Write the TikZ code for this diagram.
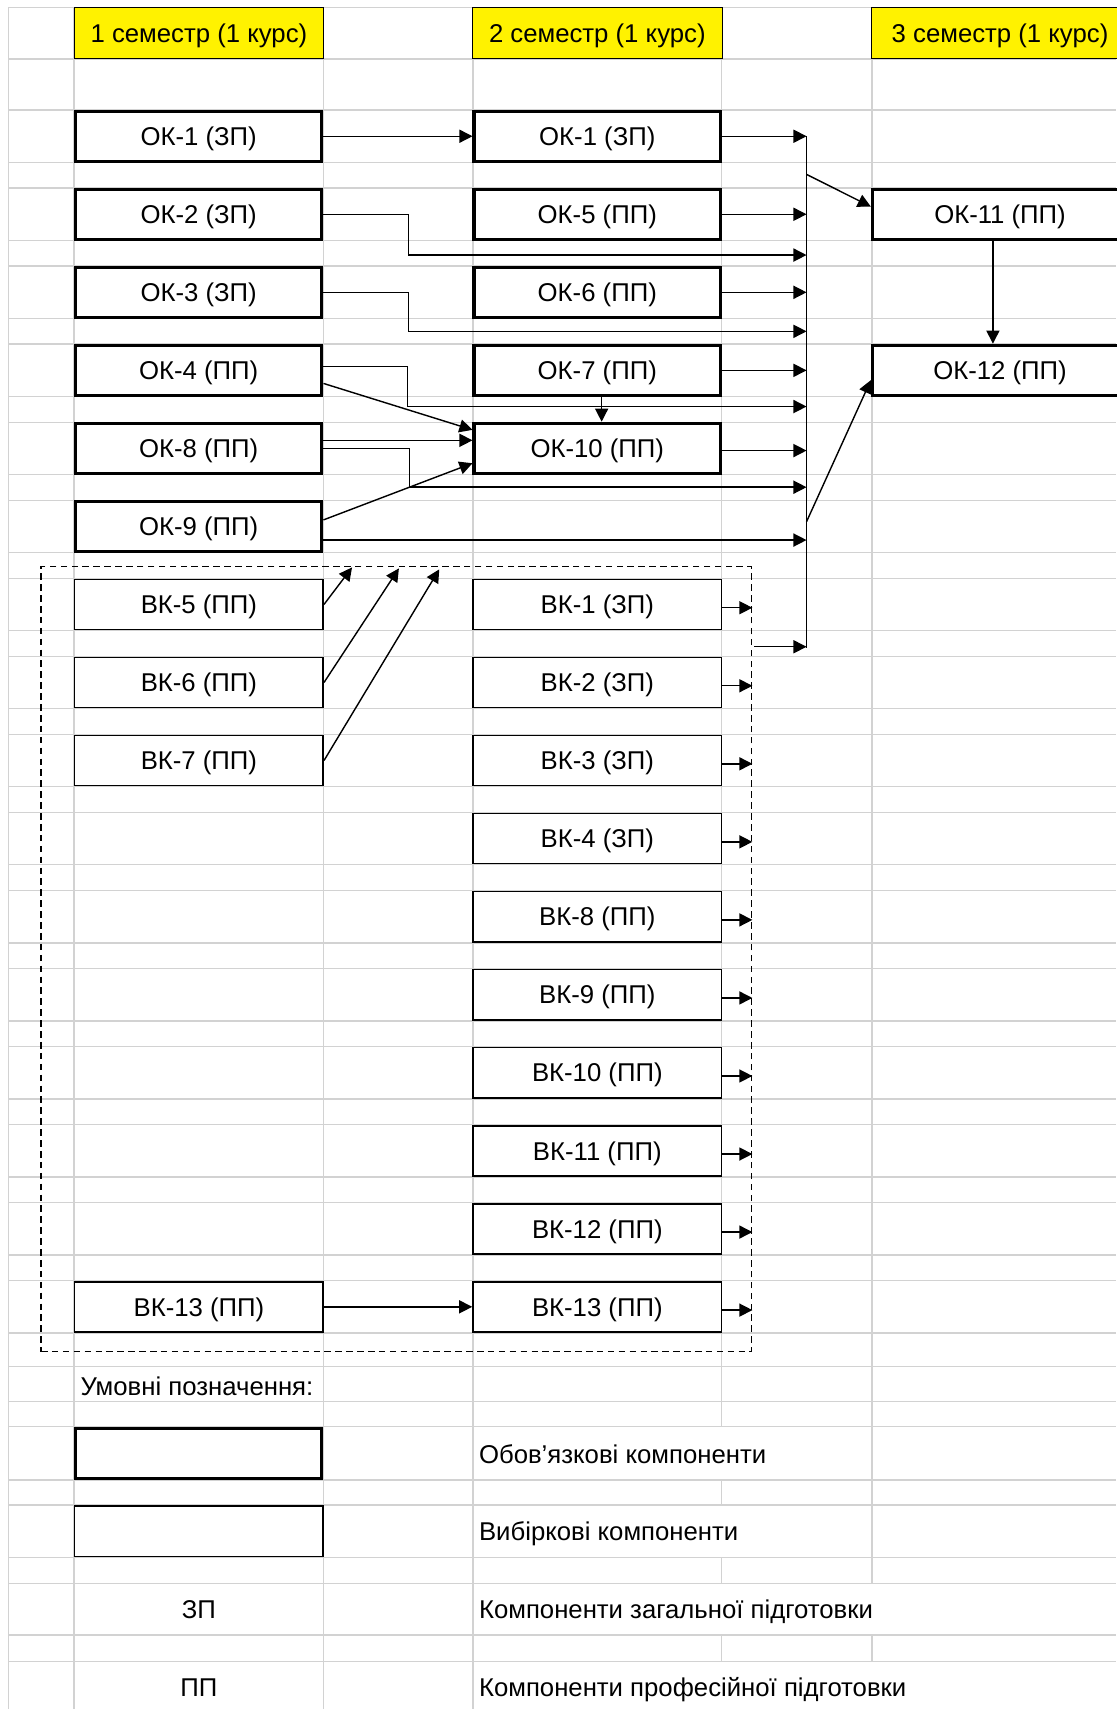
\documentclass[tikz,border=0pt]{standalone}
\usepackage{fontspec}
\setmainfont{Liberation Sans}
\usetikzlibrary{arrows.meta}
\newcommand\myfs{\fontsize{23.6}{28}\selectfont}
\begin{document}
\begin{tikzpicture}[x=1pt,y=-1pt,
  txt/.style={font=\myfs, text height=17pt, text depth=0pt},
  grid/.style={draw=gray!35, line width=1.3pt},
  hdr/.style={txt, draw=black, line width=0.9pt, fill=yellow, minimum width=229pt, minimum height=47.3pt, inner sep=0pt},
  okbox/.style={txt, draw=black, line width=3pt, fill=white, minimum width=226pt, minimum height=46pt, inner sep=0pt},
  vkbox/.style={txt, draw=black, line width=1.5pt, fill=white, minimum width=228pt, minimum height=46pt, inner sep=0pt},
  conn/.style={draw=black, line width=1.3pt},
  arr/.style={conn, -{Triangle[length=12pt,width=12pt]}},
  lbl/.style={txt, inner sep=0pt, anchor=west},
  grpbox/.style={draw=black, line width=1.3pt, dash pattern=on 6pt off 4pt, minimum width=652pt, minimum height=720pt, inner sep=0pt},
]
\useasboundingbox (0,0) rectangle (1024,1568);
\fill[white] (0,0) rectangle (1024,1568);
% grid
\foreach \y in {6.7,54,1254,1286,1309,1358,1381,1429,1453,1500,1524.6}
  \draw[grid] (8,\y) -- (1024,\y);
\foreach \k in {0,...,15}{
  \draw[grid] (8,{101+71.6*\k}) -- (1024,{101+71.6*\k});
  \draw[grid] (8,{149+71.6*\k}) -- (1024,{149+71.6*\k});
}
\foreach \x in {8,68,297,434}
  \draw[grid] (\x,6.7) -- (\x,1568);
\draw[grid] (662,6.7) -- (662,1309) (662,1358) -- (662,1381) (662,1429) -- (662,1453) (662,1500) -- (662,1524.6);
\draw[grid] (800,6.7) -- (800,1453) (800,1500) -- (800,1524.6);
% headers
\node[hdr] (h1) at (182.5,30.4) {1 семестр (1 курс)};
\node[hdr] (h2) at (548,30.4) {2 семестр (1 курс)};
\node[hdr, minimum width=235pt] (h3) at (917.5,30.4) {3 семестр (1 курс)};
% column 1
\node[okbox] (a1) at (182.3,125) {ОК-1 (ЗП)};
\node[okbox] (a2) at (182.3,196.6) {ОК-2 (ЗП)};
\node[okbox] (a3) at (182.3,268.2) {ОК-3 (ЗП)};
\node[okbox] (a4) at (182.3,339.8) {ОК-4 (ПП)};
\node[okbox] (a8) at (182.3,411.4) {ОК-8 (ПП)};
\node[okbox] (a9) at (182.3,483) {ОК-9 (ПП)};
\node[vkbox] (v5) at (182.5,554.6) {ВК-5 (ПП)};
\node[vkbox] (v6) at (182.5,626.2) {ВК-6 (ПП)};
\node[vkbox] (v7) at (182.5,697.8) {ВК-7 (ПП)};
\node[vkbox] (v13) at (182.5,1199) {ВК-13 (ПП)};
% column 2
\node[okbox] (b1) at (548,125) {ОК-1 (ЗП)};
\node[okbox] (b5) at (548,196.6) {ОК-5 (ПП)};
\node[okbox] (b6) at (548,268.2) {ОК-6 (ПП)};
\node[okbox] (b7) at (548,339.8) {ОК-7 (ПП)};
\node[okbox] (b10) at (548,411.4) {ОК-10 (ПП)};
\node[vkbox] (w1) at (548,554.6) {ВК-1 (ЗП)};
\node[vkbox] (w2) at (548,626.2) {ВК-2 (ЗП)};
\node[vkbox] (w3) at (548,697.8) {ВК-3 (ЗП)};
\node[vkbox] (w4) at (548,769.4) {ВК-4 (ЗП)};
\node[vkbox] (w8) at (548,841) {ВК-8 (ПП)};
\node[vkbox] (w9) at (548,912.6) {ВК-9 (ПП)};
\node[vkbox] (w10) at (548,984.2) {ВК-10 (ПП)};
\node[vkbox] (w11) at (548,1055.8) {ВК-11 (ПП)};
\node[vkbox] (w12) at (548,1127.4) {ВК-12 (ПП)};
\node[vkbox] (w13) at (548,1199) {ВК-13 (ПП)};
% column 3
\node[okbox, minimum width=234pt] (c11) at (917.5,196.6) {ОК-11 (ПП)};
\node[okbox, minimum width=234pt] (c12) at (917.5,339.8) {ОК-12 (ПП)};
% group box
\node[grpbox] (grp) at (363.65,880) {};
% coordinates
\coordinate (bus) at (740,125);
\coordinate (busend) at (740,594.6);
\coordinate (e2) at (375,234);
\coordinate (e3) at (375,304);
\coordinate (e4) at (374,373);
\coordinate (e8) at (375.6,447);
\coordinate (j1) at (740,160);
\coordinate (j2) at (740,478.6);
\coordinate (g1) at (692,593.4);
\coordinate (t5) at (323,520.6);
\coordinate (t6) at (366,521.5);
\coordinate (t7) at (403,522.4);
% bus
\draw[conn] (bus) -- (busend);
% column 1 -> column 2 / bus
\draw[arr] (a1.east) -- (b1.west);
\draw[arr] (a2.east) -| (e2) -- (e2 -| bus);
\draw[arr] (a3.east) -| (e3) -- (e3 -| bus);
\draw[arr] ([yshift=3.4pt]a4.east) -| (e4) -- (e4 -| bus);
\draw[arr] ([yshift=-12pt]a4.east) -- ([yshift=17pt]b10.west);
\draw[arr] ([yshift=7.4pt]a8.east) -- ([yshift=7.4pt]b10.west);
\draw[arr] (a8.east) -| (e8) -- (e8 -| bus);
\draw[arr] ([yshift=6pt]a9.east) -- ([yshift=-13.6pt]b10.west);
\path ([yshift=-12.5pt]a9.east) coordinate (s9);
\draw[arr] (s9) -- (s9 -| bus);
% column 2 -> bus
\draw[arr] (b1.east) -- (b1.east -| bus);
\draw[arr] (b5.east) -- (b5.east -| bus);
\draw[arr] (b6.east) -- (b6.east -| bus);
\draw[arr] (b7.east) -- (b7.east -| bus);
\path ([yshift=-2pt]b10.east) coordinate (s10);
\draw[arr] (s10) -- (s10 -| bus);
\draw[arr] ([xshift=4pt]b7.south) -- ([xshift=4pt]b10.north);
% bus -> column 3
\draw[arr] (j1) -- ([yshift=7pt]c11.west);
\draw[arr] (j2) -- ([yshift=-9pt]c12.west);
\draw[arr] ([xshift=-6.5pt]c11.south) -- ([xshift=-6.5pt]c12.north);
% group
\draw[arr] (g1) -- (g1 -| bus);
\foreach \n in {w1,w2,w3,w4,w8,w9,w10,w11,w12,w13}{
  \path ([yshift=-3pt]\n.east) coordinate (s\n);
  \draw[arr] (s\n) -- (s\n -| grp.east);
}
\draw[arr] (v5.east) -- (t5);
\draw[arr] (v6.east) -- (t6);
\draw[arr] (v7.east) -- (t7);
\draw[arr] (v13.east) -- (w13.west);
% legend
\node[lbl] (lg) at (73.7,1272) {Умовні позначення:};
\node[okbox, minimum height=46pt] (lgok) at (182.3,1333.5) {};
\node[vkbox] (lgvk) at (182.5,1405) {};
\node[txt, inner sep=0pt] (lgzp) at (182.5,1476.5) {ЗП};
\node[txt, inner sep=0pt] (lgpp) at (182.5,1548) {ПП};
\node[lbl] (l1) at (439.3,1334) {Обов’язкові компоненти};
\node[lbl] (l2) at (439.3,1405) {Вибіркові компоненти};
\node[lbl] (l3) at (439.3,1476.5) {Компоненти загальної підготовки};
\node[lbl] (l4) at (439.3,1548) {Компоненти професійної підготовки};
\end{tikzpicture}
\end{document}
